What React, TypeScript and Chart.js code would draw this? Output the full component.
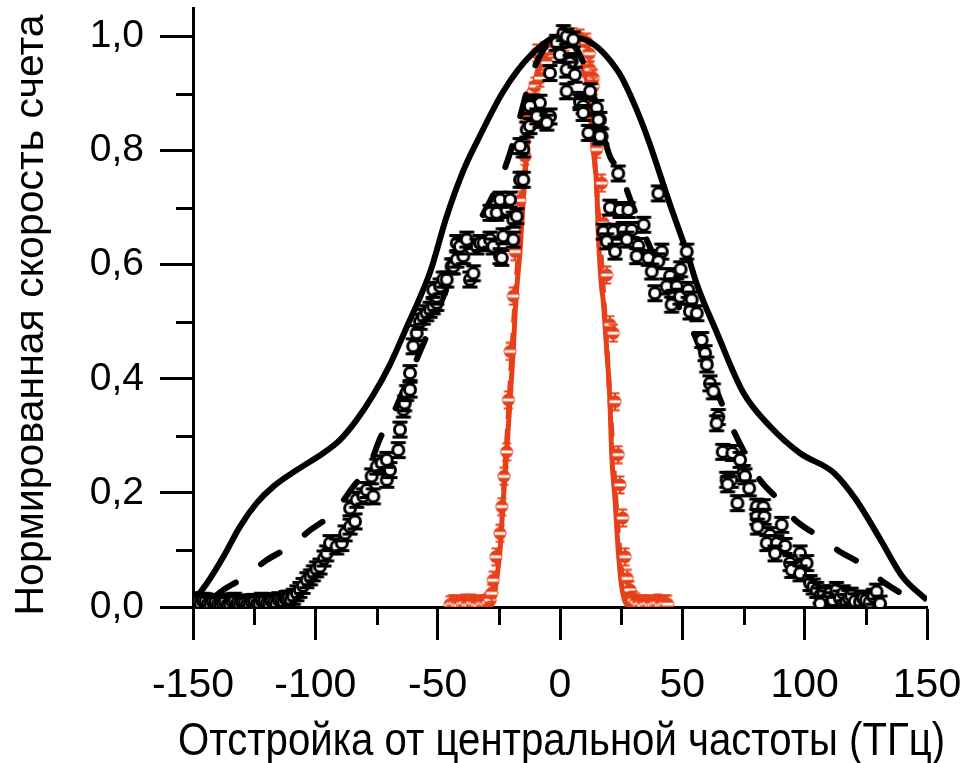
import React, { useEffect, useRef } from "react";
import { Chart, registerables } from "chart.js";

Chart.register(...registerables);

type Pt = [number, number];

// Axis ticks (THz on x, normalised count rate on y)
const xTickValues = [-150, -100, -50, 0, 50, 100, 150];
const xMinorTickValues = [-125, -75, -25, 25, 75, 125];
const yTickValues = [0, 0.2, 0.4, 0.6, 0.8, 1.0];
const yMinorTickValues = [0.1, 0.3, 0.5, 0.7, 0.9];

const xTitle = "Отстройка от центральной частоты (ТГц)";
const yTitle = "Нормированная скорость счета";

// Broad spectrum: calculated curve (solid)
const wideSolidCurve: Pt[] = [
  [-150, 0.012], [-148.5, 0.018], [-143, 0.05], [-137.6, 0.088], [-130.8, 0.141], [-124, 0.182],
  [-117.2, 0.211], [-107.6, 0.24], [-96.7, 0.27], [-89.9, 0.293], [-83.1, 0.328], [-76.3, 0.372],
  [-69.5, 0.425], [-62.7, 0.49], [-57, 0.545], [-53, 0.588], [-46.3, 0.685], [-39.5, 0.765],
  [-34, 0.815], [-23, 0.905], [-12, 0.967], [0, 1.0], [11, 0.993], [24, 0.937], [30, 0.885],
  [36, 0.82], [45, 0.705], [52, 0.62], [56, 0.565], [64, 0.482], [75, 0.375], [86, 0.316],
  [98, 0.27], [112, 0.235], [121, 0.188], [131, 0.118], [140, 0.053], [150, 0.012],
];

// Broad spectrum: model curve (dashed)
const wideDashedCurve: Pt[] = [
  [-140, 0.022], [-137.6, 0.03], [-128.6, 0.053], [-120, 0.082], [-110.4, 0.106], [-102, 0.135],
  [-92.6, 0.165], [-84.5, 0.211], [-77.7, 0.25], [-73.6, 0.295], [-68.1, 0.34], [-60, 0.42],
  [-50, 0.52], [-40, 0.62], [-30, 0.70], [-23.8, 0.755], [-20.4, 0.796], [-10, 0.95], [0, 1.0],
  [10, 0.95], [20.4, 0.79], [24, 0.767], [30, 0.70], [40, 0.60], [51, 0.507], [54, 0.486],
  [62, 0.40], [70.2, 0.316], [74.9, 0.275], [81.7, 0.223], [88.6, 0.191], [96, 0.153],
  [104.9, 0.126], [114.4, 0.097], [122.6, 0.077], [132.8, 0.042], [141.7, 0.018],
];

// Broad spectrum: measured points
const wideMeasured: Pt[] = [
  [-149, 0.012], [-148, 0.008], [-147, 0.006], [-146, 0.011], [-145, 0.01], [-144, 0.005],
  [-143, 0.004], [-142, 0.009], [-141, 0.008], [-140, 0.004], [-139, 0.003], [-138, 0.007],
  [-137, 0.009], [-136, 0.004], [-135, 0.005], [-134, 0.01], [-133, 0.011], [-132, 0.006],
  [-131, 0.004], [-130, 0.008], [-129, 0.007], [-128, 0.004], [-127, 0.003], [-126, 0.008],
  [-125, 0.009], [-124, 0.005], [-123, 0.006], [-122, 0.011], [-121, 0.01], [-120, 0.006],
  [-119, 0.005], [-118, 0.01], [-117, 0.008], [-116, 0.006], [-115, 0.012], [-114, 0.01],
  [-113, 0.009], [-112, 0.014], [-111, 0.015], [-110, 0.012],
  [-109, 0.018], [-107.5, 0.024], [-106.3, 0.03], [-105, 0.037], [-103.5, 0.047], [-102, 0.052],
  [-100.8, 0.059], [-99.5, 0.066], [-98.1, 0.071], [-96.5, 0.085], [-95.4, 0.094], [-94, 0.112],
  [-91.3, 0.106], [-89.2, 0.112], [-87.8, 0.129], [-85.8, 0.141], [-83.8, 0.15], [-85.8, 0.173],
  [-83.1, 0.188], [-80.4, 0.194], [-79, 0.205], [-76.3, 0.194], [-77, 0.229], [-74.9, 0.246],
  [-72.9, 0.252], [-70.8, 0.223], [-69.5, 0.24], [-70.8, 0.258], [-66.1, 0.275], [-65.4, 0.311],
  [-64, 0.346], [-63.5, 0.357], [-62.7, 0.375], [-61.3, 0.381], [-61.3, 0.41], [-60, 0.457],
  [-58.6, 0.48], [-57.2, 0.5], [-55.9, 0.509], [-54.5, 0.515], [-53.1, 0.521], [-51.8, 0.527],
  [-50.4, 0.533], [-50.4, 0.544], [-51.8, 0.556], [-49, 0.562], [-47.7, 0.574], [-46.3, 0.574],
  [-44.3, 0.597], [-43.6, 0.597], [-42.2, 0.609], [-39.5, 0.615], [-42.2, 0.638], [-40.9, 0.632],
  [-38.1, 0.644], [-36.8, 0.574], [-35.4, 0.585], [-34, 0.632], [-32.7, 0.638], [-31.3, 0.638],
  [-28.6, 0.644], [-27.3, 0.632], [-24.5, 0.615], [-23.8, 0.612], [-23.2, 0.65], [-19.1, 0.644],
  [-28.6, 0.691], [-25.9, 0.691], [-21.8, 0.696], [-24.5, 0.714], [-20.4, 0.714], [-19.1, 0.679],
  [-17.7, 0.685], [-16.3, 0.749], [-15, 0.749], [-15, 0.802], [-16.3, 0.808], [-13.6, 0.837],
  [-12.3, 0.843], [-8.2, 0.854], [-4.1, 0.86], [-10.9, 0.884], [-8.2, 0.884], [-12.3, 0.878],
  [-9.5, 0.86], [-5.4, 0.849], [-4.1, 0.936], [-1.4, 0.989], [0, 0.968], [1.4, 1.006],
  [2.7, 1.0], [5.4, 0.995], [4.8, 0.957], [4.1, 0.954], [2.7, 0.942], [6.1, 0.933],
  [2.7, 0.904], [8.2, 0.889], [8.2, 0.885], [9.5, 0.878], [9.5, 0.866], [12.3, 0.904],
  [15, 0.875], [16.3, 0.854], [15.7, 0.854], [12.3, 0.831], [11.6, 0.831], [17, 0.825],
  [16.3, 0.825], [23.8, 0.76], [40.2, 0.725], [20.4, 0.7], [24.5, 0.696], [27.9, 0.696],
  [17.7, 0.658], [21.8, 0.658], [25.9, 0.661], [29.3, 0.661], [34.2, 0.67], [19.1, 0.641],
  [27.3, 0.644], [22.5, 0.623], [32, 0.633], [31.3, 0.615], [36.1, 0.612], [41.6, 0.623],
  [40.2, 0.606], [37.5, 0.588], [45, 0.58], [49.3, 0.592], [51.8, 0.623], [38.8, 0.55],
  [43.6, 0.562], [47.7, 0.562], [46.3, 0.542], [45.6, 0.53], [49, 0.544], [52.4, 0.556],
  [53.8, 0.539], [53.1, 0.518], [55.9, 0.515], [57.9, 0.468], [59.3, 0.445], [60, 0.425],
  [61.3, 0.392], [62.7, 0.378], [64.7, 0.333], [64, 0.322], [66.5, 0.272], [70.5, 0.27],
  [73.6, 0.258], [74.9, 0.235], [68.1, 0.223], [70, 0.223], [68.5, 0.215], [75.6, 0.229],
  [77.3, 0.208], [72.5, 0.182], [80.4, 0.176], [83.1, 0.175], [80.4, 0.158], [83.5, 0.158],
  [80.7, 0.141], [90.6, 0.144], [85.8, 0.126], [84.5, 0.112], [88.6, 0.112], [92, 0.107],
  [87.9, 0.094], [98.1, 0.094], [94, 0.077], [100.8, 0.077], [94.7, 0.065], [98.1, 0.059],
  [102.2, 0.042], [103.5, 0.036], [104.9, 0.03], [106.3, 0.02], [107.6, 0.024], [109, 0.015],
  [110.3, 0.024], [111.5, 0.012], [113, 0.03], [114.4, 0.015], [115.8, 0.024], [106.3, 0.006],
  [117, 0.009], [118, 0.016], [119, 0.02], [120.5, 0.01], [122.6, 0.009], [123.8, 0.015],
  [125, 0.012], [126.5, 0.008], [128.1, 0.018], [129.4, 0.027], [130.8, 0.006],
];

// Narrow spectrum: calculated curve (solid)
const narrowSolidCurve: Pt[] = [
  [-30, 0], [-28, 0.004], [-26.6, 0.03], [-24.5, 0.1], [-23.2, 0.188], [-21.8, 0.27],
  [-20.4, 0.363], [-19.1, 0.451], [-18, 0.54], [-16.3, 0.626], [-15, 0.714], [-13.6, 0.796],
  [-12, 0.87], [-8, 0.95], [-3, 0.99], [2, 1.0], [7, 0.98], [11, 0.92], [13.6, 0.8],
  [15, 0.737], [15.7, 0.65], [17, 0.56], [17.6, 0.54], [19.1, 0.451], [20.4, 0.363],
  [21.1, 0.27], [22.5, 0.188], [23.8, 0.1], [25.2, 0.036], [27.3, 0.004], [30, 0],
];

// Narrow spectrum: model curve (dashed)
const narrowDashedCurve: Pt[] = [
  [-30, 0], [-27.5, 0.01], [-26, 0.05], [-24.5, 0.12], [-23, 0.21], [-21.5, 0.31],
  [-20, 0.42], [-18.5, 0.53], [-16.5, 0.65], [-14.5, 0.76], [-12, 0.87], [-8, 0.96],
  [-3, 0.995], [2, 1.0], [7, 0.975], [11, 0.91], [13.5, 0.82], [15.5, 0.7], [17.5, 0.57],
  [19.5, 0.43], [21, 0.32], [22.5, 0.21], [24, 0.12], [25.5, 0.05], [27.5, 0.01], [30, 0],
];

// Narrow spectrum: measured points
const narrowMeasured: Pt[] = [
  [-45, 0.004], [-44, 0.006], [-43, 0.006], [-42, 0.004], [-41, 0.003], [-40, 0.006],
  [-39, 0.007], [-38, 0.004], [-37, 0.004], [-36, 0.007], [-35, 0.006], [-34, 0.004],
  [-33, 0.003], [-32, 0.006], [-31, 0.006], [-30.2, 0.005], [-29.5, 0.008], [-28.6, 0.012],
  [-27.9, 0.024], [-27.3, 0.047], [-26.2, 0.088], [-24.5, 0.129], [-23.8, 0.176], [-22.9, 0.229],
  [-21.8, 0.272], [-21.1, 0.363], [-20.4, 0.448], [-19.1, 0.545], [-18.4, 0.623], [-16.3, 0.713],
  [-14.3, 0.79], [-13.6, 0.854], [-12.3, 0.872], [-12.3, 0.889], [-10.9, 0.904], [-10.2, 0.913],
  [-8.2, 0.927], [-5.4, 0.954], [-9.5, 0.971], [-6.5, 0.975], [-2.5, 0.978], [2, 0.99],
  [5.4, 1.0], [8.2, 0.997], [10.9, 0.99], [12, 0.97], [12.3, 0.942], [13.6, 0.927],
  [13.6, 0.913], [16.3, 0.837], [15, 0.802], [17, 0.743], [17.7, 0.673], [19.1, 0.582],
  [20.4, 0.495], [21.8, 0.48], [22.5, 0.36], [23.8, 0.267], [24.5, 0.214], [25.6, 0.156],
  [26.6, 0.088], [27.5, 0.05], [28.6, 0.03], [30, 0.012], [31, 0.008], [32, 0.005],
  [33, 0.006], [34, 0.003], [35, 0.005], [36, 0.006], [37, 0.004], [38, 0.004], [39, 0.006],
  [40, 0.007], [41, 0.004], [42, 0.004], [43, 0.006], [44, 0.005],
];

const BLACK = "#000000";
const RED = "#e6401a";
const FONT = "'Liberation Sans', Arial, sans-serif";

const toXY = (pts: Pt[]) => pts.map(([x, y]) => ({ x, y }));

// Open circle with error-bar caps
function blackMarker(): HTMLCanvasElement {
  const c = document.createElement("canvas");
  c.width = 20;
  c.height = 20;
  const g = c.getContext("2d")!;
  g.strokeStyle = BLACK;
  g.lineWidth = 3;
  g.beginPath();
  g.moveTo(10, 2);
  g.lineTo(10, 18);
  g.moveTo(2.5, 2.5);
  g.lineTo(17.5, 2.5);
  g.moveTo(2.5, 17.5);
  g.lineTo(17.5, 17.5);
  g.stroke();
  g.beginPath();
  g.arc(10, 10, 5.5, 0, Math.PI * 2);
  g.fillStyle = "#ffffff";
  g.fill();
  g.stroke();
  return c;
}

// Filled circle with a light bar and error-bar caps
function redMarker(): HTMLCanvasElement {
  const c = document.createElement("canvas");
  c.width = 18;
  c.height = 20;
  const g = c.getContext("2d")!;
  g.strokeStyle = RED;
  g.lineWidth = 2;
  g.beginPath();
  g.moveTo(9, 1);
  g.lineTo(9, 19);
  g.moveTo(4.5, 1.5);
  g.lineTo(13.5, 1.5);
  g.moveTo(4.5, 18.5);
  g.lineTo(13.5, 18.5);
  g.stroke();
  g.beginPath();
  g.arc(9, 10, 6.5, 0, Math.PI * 2);
  g.fillStyle = RED;
  g.fill();
  g.fillStyle = "#ffffff";
  g.fillRect(3.5, 8.6, 11, 2.8);
  return c;
}

// Minor ticks outside the plot, and both axis titles
const axisExtras = {
  id: "axisExtras",
  afterDraw(chart: any) {
    const { ctx, scales } = chart;
    const x = scales.x;
    const y = scales.y;
    ctx.save();
    ctx.strokeStyle = BLACK;
    ctx.lineWidth = 3;
    ctx.beginPath();
    for (const v of xMinorTickValues) {
      const px = Math.round(x.getPixelForValue(v)) + 0.5;
      ctx.moveTo(px, y.bottom);
      ctx.lineTo(px, y.bottom + 18);
    }
    for (const v of yMinorTickValues) {
      const py = Math.round(y.getPixelForValue(v)) + 0.5;
      ctx.moveTo(x.left, py);
      ctx.lineTo(x.left - 17, py);
    }
    ctx.stroke();

    ctx.fillStyle = BLACK;

    // x-axis title, condensed to a fixed width
    ctx.save();
    ctx.font = `46px ${FONT}`;
    ctx.textAlign = "center";
    ctx.textBaseline = "alphabetic";
    ctx.fillText(xTitle, (x.left + x.right) / 2 + 1.5, 755, 767);
    ctx.restore();

    // y-axis title
    ctx.translate(32, 315);
    ctx.rotate(-Math.PI / 2);
    ctx.font = `41px ${FONT}`;
    ctx.textAlign = "center";
    ctx.textBaseline = "middle";
    ctx.fillText(yTitle, 0, 0);
    ctx.restore();
  },
};

const noEdgePadding = (s: any) => {
  s.paddingTop = 0;
  s.paddingBottom = 0;
  s.paddingLeft = 0;
  s.paddingRight = 0;
};

export default function App() {
  const ref = useRef<HTMLCanvasElement | null>(null);

  useEffect(() => {
    if (!ref.current) return;
    const bm = blackMarker();
    const rm = redMarker();
    const chart = new Chart(ref.current, {
      type: "scatter",
      data: {
        datasets: [
          {
            data: toXY(wideMeasured),
            pointStyle: bm as any,
            showLine: false,
            order: 0,
          },
          {
            data: toXY(wideSolidCurve),
            showLine: true,
            borderColor: BLACK,
            borderWidth: 6,
            pointRadius: 0,
            cubicInterpolationMode: "monotone",
            order: 1,
          },
          {
            data: toXY(wideDashedCurve),
            showLine: true,
            borderColor: BLACK,
            borderWidth: 6,
            borderDash: [22, 31],
            borderCapStyle: "round",
            pointRadius: 0,
            cubicInterpolationMode: "monotone",
            order: 2,
          },
          {
            data: toXY(narrowMeasured),
            pointStyle: rm as any,
            showLine: false,
            order: 3,
          },
          {
            data: toXY(narrowDashedCurve),
            showLine: true,
            borderColor: RED,
            borderWidth: 5,
            borderDash: [14, 10],
            pointRadius: 0,
            cubicInterpolationMode: "monotone",
            order: 4,
          },
          {
            data: toXY(narrowSolidCurve),
            showLine: true,
            borderColor: RED,
            borderWidth: 5,
            pointRadius: 0,
            cubicInterpolationMode: "monotone",
            order: 5,
          },
        ],
      },
      options: {
        animation: false,
        responsive: false,
        devicePixelRatio: 1,
        layout: { padding: { top: 8, right: 36, left: 0, bottom: 0 } },
        plugins: { legend: { display: false }, tooltip: { enabled: false } },
        scales: {
          x: {
            type: "linear",
            min: -150,
            max: 150,
            afterFit: (s: any) => {
              s.height = 156;
              noEdgePadding(s);
            },
            afterBuildTicks: (s: any) => {
              s.ticks = xTickValues.map((v) => ({ value: v }));
            },
            border: { display: true, color: BLACK, width: 3 },
            grid: {
              drawOnChartArea: false,
              drawTicks: true,
              tickLength: 33,
              tickWidth: 3,
              tickColor: BLACK,
            },
            ticks: {
              autoSkip: false,
              maxRotation: 0,
              padding: 21,
              color: BLACK,
              font: { family: FONT, size: 41 },
              callback: (v: any) => String(v),
            },
            title: { display: false },
          },
          y: {
            type: "linear",
            min: 0,
            max: 1.05,
            afterFit: (s: any) => {
              s.width = 193;
              noEdgePadding(s);
            },
            afterBuildTicks: (s: any) => {
              s.ticks = yTickValues.map((v) => ({ value: v }));
            },
            border: { display: true, color: BLACK, width: 3 },
            grid: {
              drawOnChartArea: false,
              drawTicks: true,
              tickLength: 33,
              tickWidth: 3,
              tickColor: BLACK,
            },
            ticks: {
              padding: 16,
              color: BLACK,
              font: { family: FONT, size: 39 },
              callback: (v: any) => Number(v).toFixed(1).replace(".", ","),
            },
            title: { display: false },
          },
        },
      },
      plugins: [axisExtras],
    });
    return () => chart.destroy();
  }, []);

  return (
    <div style={{ position: "fixed", left: 0, top: 0, width: 963, height: 763, background: "#fff" }}>
      <canvas ref={ref} width={963} height={763} style={{ width: 963, height: 763 }} />
    </div>
  );
}
